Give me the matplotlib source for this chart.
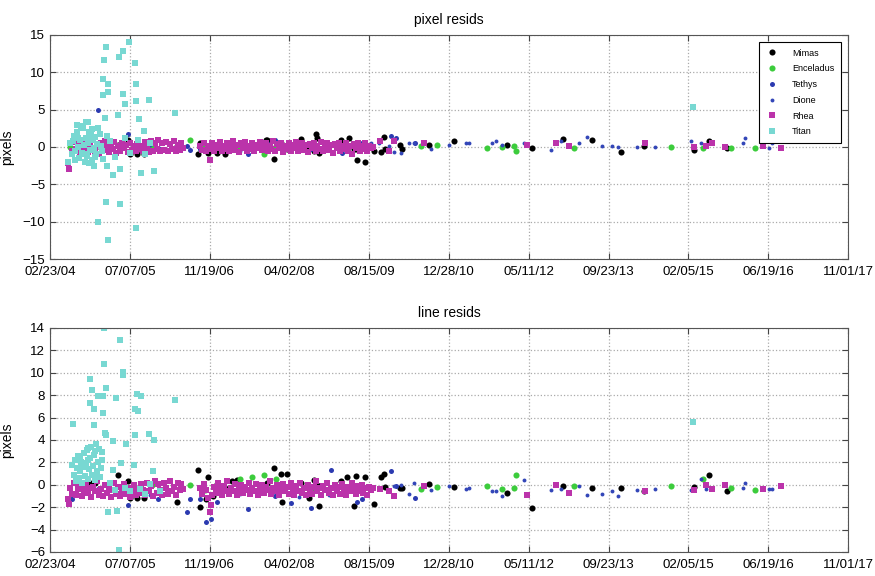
import matplotlib
matplotlib.use("Agg")
import matplotlib.pyplot as plt
import matplotlib.dates as mdates
from datetime import datetime, timedelta

plt.rcParams['font.family'] = ['Liberation Sans', 'DejaVu Sans']

# x values are days since 02/23/04
start = datetime(2004, 2, 23)

# Mimas
mimas_days = [250, 281, 425, 488, 500, 544, 588, 794, 812, 925, 938, 975, 988, 1019, 1044, 1094,
              1138, 1175, 1356, 1362, 1406, 1450, 1456, 1488, 1575, 1625, 1656, 1669, 1675, 1688,
              1825, 1862, 1875, 1906, 1919, 1925, 1975, 2031, 2075, 2094, 2100, 2194, 2206, 2375,
              2531, 2862, 3019, 3212, 3394, 3581, 3725, 4038, 4131, 4244]
mimas_pix = [0.1, -0.2, 0.3, 1.0, -1.0, -1.0, -1.0, 0.2, 0.6, -1.0, 0.6, -0.3, -0.8, 0.0, -0.8, -0.9,
             0.0, -0.2, 0.9, 1.0, -1.6, 0.6, 0.0, -0.3, 1.1, 0.0, -0.6, 1.7, 1.2, -0.8,
             1.0, 0.2, 1.2, -0.3, -0.3, -1.7, -2.0, -0.6, -0.7, 1.4, -0.3, 0.3, -0.3, 0.3,
             0.8, 0.3, -0.1, 1.1, 0.9, -0.7, 0.2, -0.4, 0.8, -0.2]
mimas_line = [0.2, 0.2, 0.9, 0.3, -1.2, -1.2, -1.2, -1.5, -0.3, 1.3, -2.0, -1.3, 0.7, -1.0, 0.1, -0.3,
              0.3, 0.4, -0.2, 0.2, 1.5, 1.0, -1.5, 1.0, 0.2, -1.2, 0.4, -0.5, 0.0, -1.9,
              0.3, 0.7, -0.2, -1.9, 0.8, -0.3, 0.7, -1.7, 0.7, 1.0, -0.2, -0.3, -0.3, 0.1,
              -0.2, -0.7, -2.1, -0.1, -0.3, -0.3, -0.6, -0.2, 0.9, -0.6]

# Enceladus
enc_days = [125, 638, 875, 969, 1188, 1269, 1338, 1419, 2325, 2425, 2738, 2831, 2906, 2919,
            3281, 3894, 4094, 4269, 4419]
enc_pix = [0.0, 0.0, 0.9, 0.3, 0.0, -0.2, -1.0, 0.1, 0.1, 0.3, -0.2, 0.0, 0.1, -0.6,
           -0.2, 0.0, -0.1, -0.1, -0.1]
enc_line = [-1.3, 0.0, 0.0, -0.5, 0.5, 0.7, 0.9, 0.5, -0.4, -0.2, -0.1, -0.4, -0.3, 0.9,
            -0.1, -0.1, 0.5, -0.3, -0.5]

# Tethys
tet_days = [138, 300, 488, 675, 856, 875, 938, 975, 1012, 1044, 1238, 1362, 1412, 1481, 1512,
            1638, 1762, 1831, 1925, 1956, 2138, 2169, 2288]
tet_pix = [-0.5, 4.9, 1.7, -0.2, 0.1, -0.4, -0.3, -0.5, -0.2, 0.3, -0.9, 0.6, 1.0, -0.2, 0.2,
           -0.3, 0.4, -0.8, 0.3, 0.6, 1.5, 1.2, 0.6]
tet_line = [-1.3, -0.4, -1.8, -1.3, -2.4, -1.3, -1.3, -3.3, -3.1, -1.5, -2.2, -0.4, -1.0, -0.3, -1.6,
            -2.1, 1.3, -0.2, -1.5, -1.3, 1.2, -0.1, -1.2]

# Dione
dio_days = [625, 1188, 1562, 1750, 2012, 2062, 2125, 2156, 2200, 2250, 2281, 2388, 2500, 2606,
            2625, 2769, 2794, 2831, 2969, 3138, 3200, 3312, 3362, 3456, 3519, 3556, 3681, 3794,
            4019, 4081, 4112, 4344, 4356, 4506, 4525]
dio_pix = [0.3, -0.5, 0.2, -0.4, 0.6, 0.6, 0.2, -0.7, -0.8, 0.6, 0.6, -0.3, 0.3, 0.6,
           0.6, 0.5, 0.8, 0.3, 0.6, -0.4, 0.8, 0.6, 1.4, 0.1, 0.2, 0.0, 0.0, 0.0,
           0.8, 0.5, 0.1, 0.5, 1.2, -0.2, 0.5]
dio_line = [-0.9, -0.8, -1.1, -0.9, -0.5, -0.3, -0.6, -0.1, 0.0, -0.8, 0.2, -0.5, -0.1, -0.4,
            -0.3, -0.6, -0.6, -1.0, 0.4, -0.5, -0.4, -0.1, -0.9, -0.8, -0.6, -1.0, -0.5, -0.4,
            -0.5, 0.5, -0.4, -0.3, 0.2, -0.4, -0.4]

# Rhea
rhea_days = [112, 118, 128, 140, 152, 164, 176, 188, 200, 212, 224, 236, 248, 260, 272, 284, 296,
             308, 320, 332, 344, 356, 368, 380, 392, 404, 416, 428, 440, 452, 464, 476, 488, 500,
             512, 524, 536, 548, 560, 572, 584, 596, 608, 620, 632, 644, 656, 668, 680, 692, 704,
             716, 728, 740, 752, 764, 776, 788, 800, 812, 824, 836,
             940, 952, 964, 976, 988, 1000, 1008, 1016, 1028, 1040, 1052, 1064, 1076, 1088, 1100,
             1112, 1124, 1136, 1148, 1160, 1172, 1184, 1196, 1208, 1220, 1232, 1244, 1256, 1268,
             1280, 1292, 1304, 1316, 1328, 1340, 1352, 1364, 1376, 1388, 1400, 1412, 1424, 1436,
             1448, 1460, 1472, 1484, 1496, 1508, 1520, 1532, 1544, 1556, 1568, 1580, 1592, 1604,
             1616, 1628, 1640, 1652, 1664, 1676, 1688, 1700, 1712, 1724, 1736, 1748, 1760, 1772,
             1784, 1796, 1808, 1820, 1832, 1844, 1856, 1868, 1880, 1892, 1904, 1916, 1928, 1940,
             1952, 1964, 1976, 1988, 2000, 2012,
             2025, 2069, 2125, 2156, 2344, 2988, 3169, 3250, 3731, 4038, 4112, 4150, 4231, 4469, 4581]
rhea_pix = [-2.2, -2.9, 0.6, -0.5, 0.7, -0.3, 0.2, -0.8, 0.8, -0.1, 0.4, -0.7, 0.6, -0.2, 0.9, -0.6, 0.3,
            -0.9, 0.5, -0.4, 0.8, 0.0, -0.7, 0.4, -0.3, 0.7, -0.8, 0.2, -0.5, 0.6, -0.2, 0.3, -0.7, 0.5,
            -0.4, 0.1, -0.6, 0.4, -0.3, 0.2, -0.5, 0.7, -0.2, -0.7, 0.8, -0.5, 0.6, -0.3, 0.9, -0.6, 0.5,
            -0.4, 0.7, -0.6, 0.4, -0.3, 0.8, -0.5, 0.3, -0.4, 0.6, -0.2,
            0.2, -0.4, 0.5, -0.6, 0.1, -1.8, -0.3, 0.6, -0.5, 0.3, -0.2, 0.7, -0.6, 0.2, -0.3,
            0.6, -0.5, 0.1, 0.8, -0.4, 0.3, -0.7, 0.5, -0.1, 0.7, -0.5, 0.2, -0.3, 0.6,
            -0.6, 0.3, -0.2, 0.7, -0.4, 0.1, 0.5, -0.6, 0.2, -0.3, 0.8, -0.5, 0.4, -0.1,
            0.6, -0.7, 0.2, -0.3, 0.5, -0.5, 0.3, -0.2, 0.7, -0.6, 0.1, 0.5, -0.4, 0.3,
            -0.7, 0.4, -0.2, 0.6, -0.5, 0.2, -0.3, 0.7, -0.6, 0.1, 0.5, -0.4, 0.3, -0.8,
            0.4, -0.1, 0.6, -0.5, 0.2, -0.3, 0.5, -0.6, 0.1, -0.9, 0.4, -0.2, 0.6, -0.5,
            0.2, -0.3, 0.5, -0.6, 0.1, -0.2,
            0.0, 0.8, -0.6, 0.8, 0.6, 0.3, 0.6, 0.2, 0.6, 0.0, 0.2, 0.6, 0.0, 0.2, -0.2]
rhea_line = [-1.3, -1.7, -0.3, -0.8, 0.2, -0.9, -0.4, -0.1, -1.0, -0.5, 0.1, -0.7, -0.3, -1.1, -0.2, -0.6, 0.3,
             -0.9, -0.4, -1.0, 0.0, -0.7, -0.3, -1.1, -0.5, 0.2, -0.8, -0.2, -1.0, -0.5, 0.1, -0.8, -0.3, -1.1,
             -0.6, 0.0, -0.9, -0.4, -0.7, 0.1, -0.5, -0.9, 0.2, -0.6, -0.1, -1.0, 0.3, -0.7, 0.1, -0.5, -0.9,
             0.2, -0.3, -0.8, 0.3, -0.6, -0.2, -0.9, 0.2, -0.5, 0.1, -0.4,
             -0.3, -0.8, 0.1, -0.5, -1.2, -2.4, -1.8, -0.9, -0.2, -0.7, 0.2, -0.4, -0.9, -0.1, -0.6,
             0.3, -0.8, -0.3, -0.6, 0.1, -0.9, -0.4, 0.0, -0.7, -0.2, -0.5, 0.2, -0.8, -0.3,
             -0.6, 0.1, -0.9, -0.4, 0.0, -0.7, -0.2, -0.5, 0.3, -0.8, -0.3, -0.6, 0.0, -0.9,
             -0.4, 0.1, -0.6, -0.2, -0.8, 0.2, -0.4, -0.9, -0.1, -0.6, 0.2, -0.7, -0.3, -0.9,
             0.0, -0.5, -0.8, -0.2, 0.3, -0.6, -0.3, -0.9, -0.1, -0.5, 0.2, -0.7, -0.3, -0.9,
             0.0, -0.6, -0.2, -0.8, 0.1, -0.5, -0.9, -0.2, -0.6, 0.2, -0.4, -0.8, -0.1, -0.6,
             0.0, -0.7, -0.3, -0.9, -0.2, -0.5,
             -0.3, -0.4, -0.6, -1.0, -0.1, -0.9, 0.0, -0.7, -0.6, -0.5, 0.0, -0.4, 0.0, -0.4, -0.1]

# Titan, pixel resids
titan_pix_days = [354, 494, 458, 431, 339, 531, 333, 361, 536, 364, 330, 455, 473, 542, 619, 781, 427,
                  344, 556, 239, 167, 589, 356, 396, 438, 569, 652, 277, 348, 440, 298, 538, 362,
                  112, 125, 138, 150, 156, 169, 175, 181, 188, 200, 206, 212, 219, 225, 231, 238,
                  244, 250, 256, 262, 269, 275, 281, 288, 294, 312, 325, 375, 406, 469, 500, 550,
                  594, 625, 144, 160, 178, 194, 216, 228, 242, 252, 266, 284, 300, 318, 335, 360,
                  4031]
titan_pix = [13.4, 14.0, 12.9, 12.1, 11.7, 11.3, 9.1, 8.5, 8.5, 7.4, 6.9, 7.1, 5.8, 6.1, 6.3, 4.6, 4.3,
             3.9, 3.7, 3.4, 2.9, 2.2, -2.6, -3.8, -3.0, -3.5, -3.2, -2.6, -7.4, -7.6, -10.1, -10.9, -12.4,
             -2.0, 0.5, -1.0, 1.5, -0.5, 2.0, 0.0, -1.5, 1.0, -0.8, 2.5, 0.3, -2.0, 1.2, -1.2, 0.6,
             2.0, -0.4, 1.6, -1.8, 0.9, -0.2, 1.4, -1.0, 0.4, 1.8, -0.6, 0.8, -1.3, 1.2, -0.8, 1.0,
             -1.0, 0.5, 0.8, -1.8, 1.2, 2.8, -1.0, 3.3, -2.2, 1.0, 2.4, -1.4, 2.6, 0.1, -1.6, 1.5,
             5.4]

# Titan, line resids
titan_line_days = [339, 438, 341, 458, 460, 250, 261, 348, 302, 333, 411, 548, 569, 781, 252, 277,
                   335, 531, 550, 146, 279, 343, 354, 533, 619, 652, 396, 479, 239, 281, 188, 241,
                   323, 448, 529, 398, 292, 646, 361, 423, 431,
                   138, 150, 156, 162, 169, 175, 181, 190, 194, 200, 206, 212, 219, 225, 231, 238,
                   244, 248, 256, 262, 269, 275, 283, 288, 294, 300, 306, 312, 319, 325, 375, 406,
                   469, 500, 562, 594, 625, 688, 4031]
titan_line = [14.0, 12.9, 10.8, 10.1, 9.8, 9.4, 8.5, 8.6, 7.9, 7.9, 7.7, 8.1, 7.9, 7.6, 7.3, 6.8,
              6.4, 6.8, 6.6, 5.4, 5.3, 4.6, 4.4, 4.4, 4.5, 4.0, 3.9, 3.6, 3.3, 3.0, 2.5, 2.2,
              2.2, 1.9, 1.8, 1.3, 1.2, 1.2, -2.4, -2.3, -5.8,
              1.8, 0.9, 2.2, 0.3, 1.5, 2.6, 0.6, 1.2, 2.0, 0.2, 1.6, 2.8, 0.8, 1.9, 3.1, 0.5,
              1.4, 2.4, 3.4, 0.9, 1.7, 2.7, 0.4, 3.6, 1.0, 2.0, 3.2, 0.7, 1.5, 2.9, 0.2, -0.5,
              -0.3, -0.6, -0.4, -0.8, 0.1, -0.6, 5.6]

tick_days = [0, 500, 1000, 1500, 2000, 2500, 3000, 3500, 4000, 4500, 5000]


def to_dates(days):
    return [start + timedelta(days=d) for d in days]


series = [
    ("Mimas", mimas_days, mimas_pix, mimas_line, "o", "black", 4.4),
    ("Enceladus", enc_days, enc_pix, enc_line, "o", "#3ccc3c", 4.4),
    ("Tethys", tet_days, tet_pix, tet_line, "o", "#2b3ab0", 3.6),
    ("Dione", dio_days, dio_pix, dio_line, "o", "#3346b8", 2.8),
    ("Rhea", rhea_days, rhea_pix, rhea_line, "s", "#bb33aa", 4.6),
]

fig = plt.figure(figsize=(8.75, 5.76), dpi=100)
ax1 = fig.add_axes([0.0571, 0.5503, 0.912, 0.389])
ax2 = fig.add_axes([0.0571, 0.0417, 0.912, 0.389])

for name, d, p, l, m, c, ms in series:
    ax1.plot(to_dates(d), p, m, color=c, markersize=ms, markeredgewidth=0, label=name)
    ax2.plot(to_dates(d), l, m, color=c, markersize=ms, markeredgewidth=0, label=name)
ax1.plot(to_dates(titan_pix_days), titan_pix, "s", color="#78d8d2", markersize=4.8,
         markeredgewidth=0, label="Titan")
ax2.plot(to_dates(titan_line_days), titan_line, "s", color="#78d8d2", markersize=4.8,
         markeredgewidth=0, label="Titan")

ticks = to_dates(tick_days)
for ax, title, yt in [(ax1, "pixel resids", range(-15, 16, 5)),
                      (ax2, "line resids", range(-6, 15, 2))]:
    ax.set_xlim(ticks[0], ticks[-1])
    ax.set_xticks(ticks)
    ax.xaxis.set_major_formatter(mdates.DateFormatter("%m/%d/%y"))
    ax.set_yticks(list(yt))
    ax.set_ylim(yt[0], yt[-1])
    ax.grid(True, linestyle=":", color="#aaaaaa", linewidth=0.9)
    ax.tick_params(direction="in", top=True, right=True, labelsize=9.5, length=4,
                   color="#444444")
    ax.tick_params(axis="x", pad=5)
    for s in ax.spines.values():
        s.set_color("#555555")
    ax.set_title(title, fontsize=10, pad=8)
    ax.set_ylabel("pixels", fontsize=10)
    ax.yaxis.set_label_coords(-0.045, 0.5)

leg = ax1.legend(loc="upper right", fontsize=6.5, fancybox=False, edgecolor="black",
                 framealpha=1, borderaxespad=0.8, handletextpad=1.4, labelspacing=0.75,
                 borderpad=0.7, handlelength=1.6)
leg.get_frame().set_linewidth(0.8)

fig.savefig("out.png", dpi=100)
